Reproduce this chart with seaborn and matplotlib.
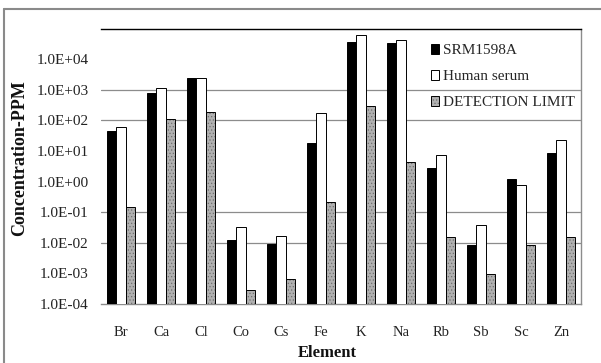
import numpy as np
import pandas as pd
import matplotlib
matplotlib.use("Agg")
import matplotlib.pyplot as plt
import seaborn as sns
from matplotlib.lines import Line2D
from matplotlib.patches import Patch
from matplotlib.ticker import FixedLocator, FuncFormatter, NullLocator
from matplotlib.colors import to_rgba

# ---- data ----
ELEMENTS = ["Br", "Ca", "Cl", "Co", "Cs", "Fe", "K", "Na", "Rb", "Sb", "Sc", "Zn"]
SERIES = ["SRM1598A", "Human serum", "DETECTION LIMIT"]
SRM1598A = [44, 820, 2500, 0.0125, 0.0093, 17.8, 37700, 34900, 2.72, 0.0084, 1.19, 8.4]
HUMAN_SERUM = [62, 1130, 2500, 0.034, 0.0161, 178, 63700, 42700, 7.2, 0.0396, 0.76, 23]
DETECTION_LIMIT = [0.153, 108, 196, 0.000286, 0.00065, 0.223, 308, 4.49, 0.0153, 0.00095, 0.0084, 0.0153]
Y_TICKS = [1e-4, 1e-3, 1e-2, 1e-1, 1e0, 1e1, 1e2, 1e3, 1e4]
GRID_LEVELS = [1e-2, 1e-1, 1e2, 1e3]
COLORS = {"SRM1598A": "#000000", "Human serum": "#ffffff", "DETECTION LIMIT": "#b0b0b0"}

df = pd.DataFrame({
    "Element": ELEMENTS * 3,
    "Value": SRM1598A + HUMAN_SERUM + DETECTION_LIMIT,
    "Series": [SERIES[0]] * len(ELEMENTS) + [SERIES[1]] * len(ELEMENTS) + [SERIES[2]] * len(ELEMENTS),
})

sns.set_theme(style="white")
plt.rcParams["font.family"] = ["Liberation Serif", "DejaVu Serif"]
plt.rcParams["hatch.linewidth"] = 0.5

W, H = 601, 363
fig = plt.figure(figsize=(W / 100, H / 100), dpi=100)
fig.patch.set_facecolor("white")
ax = fig.add_axes([101 / W, 1 - 304 / H, 480 / W, 275.3 / H])

sns.barplot(data=df, x="Element", y="Value", hue="Series", hue_order=SERIES,
            order=ELEMENTS, palette=COLORS, width=0.7, edgecolor="black",
            linewidth=0.7, legend=False, ax=ax, zorder=3)
ax.set_yscale("log")

# texture for detection-limit bars
for bar in ax.containers[2]:
    bar.set_hatch(".....")
    bar._hatch_color = to_rgba("#707070")

ax.set_ylim(1e-4, 1e5)
ax.set_xlim(-0.5, len(ELEMENTS) - 0.5)
ax.yaxis.set_major_locator(FixedLocator(Y_TICKS))
ax.yaxis.set_minor_locator(NullLocator())
ax.yaxis.set_major_formatter(FuncFormatter(lambda v, p: f"{v:.1E}"))

for lv in GRID_LEVELS:
    ax.axhline(lv, color="#8c8c8c", lw=0.9, zorder=1)

ax.tick_params(axis="y", length=0, pad=9, labelsize=11, colors="#222222")
ax.tick_params(axis="x", which="major", length=0, pad=16, labelsize=10.5, colors="#222222")
ax.set_xticks(np.arange(0.5, len(ELEMENTS) - 1, 1.0), minor=True)
ax.tick_params(axis="x", which="minor", length=3, width=0.8, color="#a0a0a0", direction="out")

ax.spines["left"].set_visible(False)
ax.spines["top"].set_color("black")
ax.spines["top"].set_linewidth(1.0)
ax.spines["right"].set_color("#8c8c8c")
ax.spines["right"].set_linewidth(1.0)
ax.spines["bottom"].set_color("#8c8c8c")
ax.spines["bottom"].set_linewidth(1.0)

ax.set_ylabel("Concentration-PPM", fontsize=13, fontweight="bold", color="#111111")
ax.yaxis.set_label_coords(-0.152, 0.53)
ax.set_xlabel("Element", fontsize=12, fontweight="bold", color="#111111")
ax.xaxis.set_label_coords(0.471, -0.148)

handles = []
for s in SERIES:
    p = Patch(facecolor=COLORS[s], edgecolor="black", linewidth=0.7)
    if s == "DETECTION LIMIT":
        p.set_hatch(".....")
        p._hatch_color = to_rgba("#707070")
    handles.append(p)
ax.legend(handles, SERIES, loc="upper left", bbox_to_anchor=(0.6875, 0.943),
          frameon=False, fontsize=11, handlelength=0.55, handleheight=0.55,
          handletextpad=0.25, labelspacing=0.85, borderpad=0, borderaxespad=0)

# outer frame of the figure
fig.add_artist(Line2D([4 / W, 1], [1 - 9 / H, 1 - 9 / H], transform=fig.transFigure,
                      color="#8a8a8a", lw=1.5))
fig.add_artist(Line2D([4 / W, 4 / W], [0, 1 - 9 / H], transform=fig.transFigure,
                      color="#8a8a8a", lw=1.5))

fig.savefig("out.png", dpi=100, facecolor="white")
